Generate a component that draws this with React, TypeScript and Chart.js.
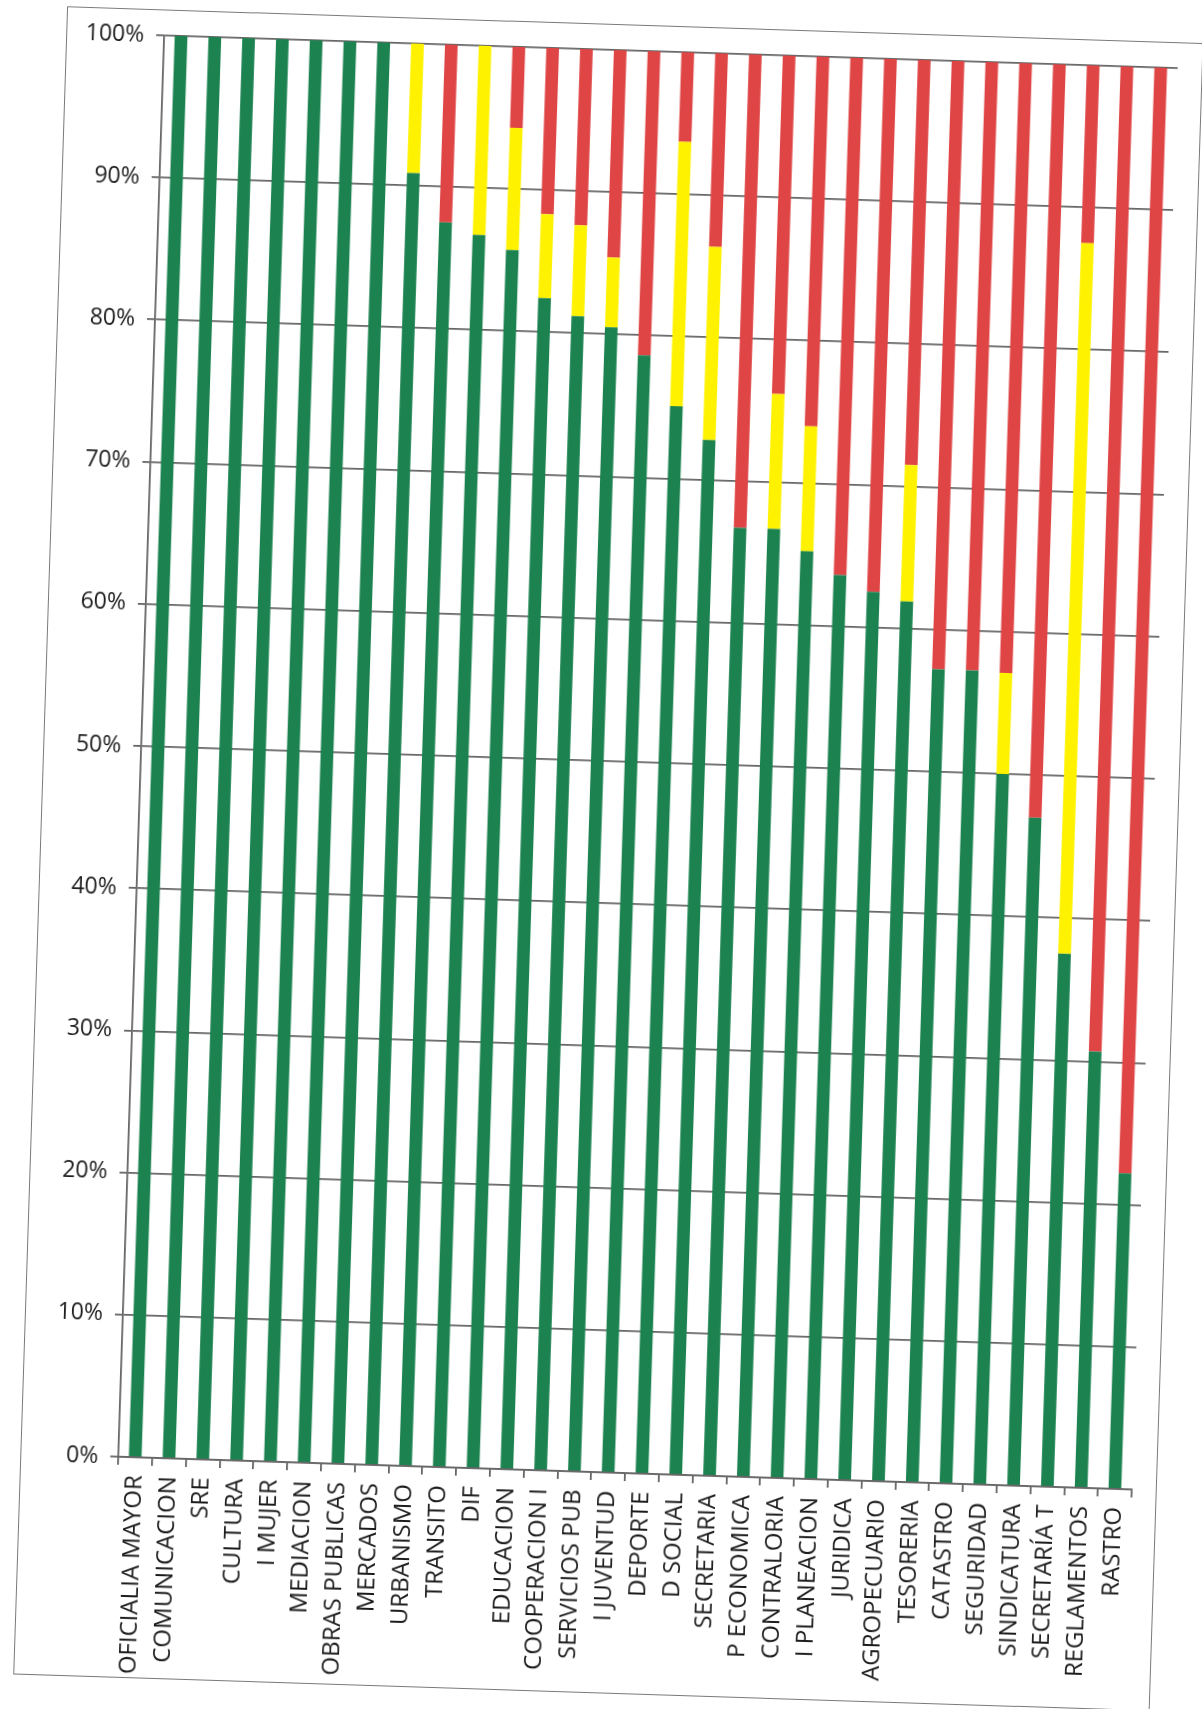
import { useEffect, useRef } from "react";
import { Chart, registerables } from "chart.js";

Chart.register(...registerables);

const categories = [
  "OFICIALIA MAYOR",
  "COMUNICACION",
  "SRE",
  "CULTURA",
  "I MUJER",
  "MEDIACION",
  "OBRAS PUBLICAS",
  "MERCADOS",
  "URBANISMO",
  "TRANSITO",
  "DIF",
  "EDUCACION",
  "COOPERACION I",
  "SERVICIOS PUB",
  "I JUVENTUD",
  "DEPORTE",
  "D SOCIAL",
  "SECRETARIA",
  "P ECONOMICA",
  "CONTRALORIA",
  "I PLANEACION",
  "JURIDICA",
  "AGROPECUARIO",
  "TESORERIA",
  "CATASTRO",
  "SEGURIDAD",
  "SINDICATURA",
  "SECRETARÍA T",
  "REGLAMENTOS",
  "RASTRO",
];

const greenValues = [
  100, 100, 100, 100, 100, 100, 100, 90.9, 87.5, 86.7, 85.7, 82.4, 81.2, 80.5, 78.6,
  75.1, 72.8, 66.7, 66.7, 65.2, 63.6, 62.5, 61.9, 57.2, 57.2, 50.0, 47.0, 37.5, 30.7, 22.2,
];

const yellowValues = [
  0, 0, 0, 0, 0, 0, 0, 9.1, 0, 13.3, 8.6, 5.9, 6.4, 4.9, 0,
  18.6, 13.6, 0, 9.5, 8.8, 0, 0, 9.6, 0, 0, 7.1, 0, 50.0, 0, 0,
];

const redValues = [
  0, 0, 0, 0, 0, 0, 0, 0, 12.5, 0, 5.7, 11.7, 12.4, 14.6, 21.4,
  6.3, 13.6, 33.3, 23.8, 26.0, 36.4, 37.5, 28.5, 42.8, 42.8, 42.9, 53.0, 12.5, 69.3, 77.8,
];

const yTickValues = [0, 10, 20, 30, 40, 50, 60, 70, 80, 90, 100];

const GREEN = "#1b8250";
const YELLOW = "#fff200";
const RED = "#df4545";
const GRID = "#666666";
const TEXT = "#1c1c1c";
const FONT = "'Open Sans', 'DejaVu Sans', sans-serif";

export default function App() {
  const canvasRef = useRef<HTMLCanvasElement | null>(null);

  useEffect(() => {
    const canvas = canvasRef.current;
    if (!canvas) return;
    const chart = new Chart(canvas, {
      type: "bar",
      data: {
        labels: categories,
        datasets: [
          {
            label: "Verde",
            data: greenValues,
            backgroundColor: GREEN,
            barPercentage: 0.376,
            categoryPercentage: 1,
          },
          {
            label: "Amarillo",
            data: yellowValues,
            backgroundColor: YELLOW,
            barPercentage: 0.376,
            categoryPercentage: 1,
          },
          {
            label: "Rojo",
            data: redValues,
            backgroundColor: RED,
            barPercentage: 0.376,
            categoryPercentage: 1,
          },
        ],
      },
      options: {
        responsive: false,
        maintainAspectRatio: false,
        animation: false,
        devicePixelRatio: 1,
        layout: { padding: { left: 0, top: 50, right: 50, bottom: 0 } },
        plugins: {
          legend: { display: false },
          tooltip: { enabled: false },
        },
        scales: {
          x: {
            stacked: true,
            grid: {
              display: true,
              drawOnChartArea: false,
              drawTicks: true,
              tickLength: 8,
              color: GRID,
              lineWidth: 1.8,
              offset: true,
            },
            border: { display: true, color: GRID, width: 1.8 },
            ticks: {
              autoSkip: false,
              minRotation: 90,
              maxRotation: 90,
              padding: 10,
              color: TEXT,
              font: { family: FONT, size: 24 },
            },
            afterFit: (scale: any) => {
              scale.height = 237;
            },
          },
          y: {
            stacked: true,
            min: 0,
            max: 100,
            afterBuildTicks: (scale: any) => {
              scale.ticks = yTickValues.map((v) => ({ value: v }));
            },
            ticks: {
              stepSize: 10,
              padding: 12,
              color: TEXT,
              font: { family: FONT, size: 23 },
              callback: (v: any) => `${v}%`,
            },
            grid: {
              color: GRID,
              lineWidth: 1.8,
              tickLength: 8,
              drawTicks: true,
            },
            border: { display: true, color: GRID, width: 1.8 },
            afterFit: (scale: any) => {
              scale.width = 138;
            },
          },
        },
      },
    });
    return () => chart.destroy();
  }, []);

  return (
    <div
      style={{
        position: "fixed",
        left: 0,
        top: 0,
        width: 1202,
        height: 1709,
        overflow: "hidden",
        background: "#ffffff",
      }}
    >
      <div
        style={{
          position: "absolute",
          left: 0,
          top: 0,
          width: 1202,
          height: 1709,
          transform: "rotate(1.85deg)",
          transformOrigin: "601px 854.5px",
        }}
      >
        <div
          style={{
            position: "absolute",
            left: 40,
            top: 24,
            width: 1137,
            height: 1669,
            border: "1.6px solid #7a7a7a",
            boxSizing: "border-box",
          }}
        />
        <canvas
          ref={canvasRef}
          width={1202}
          height={1709}
          style={{ position: "absolute", left: 0, top: 0, width: 1202, height: 1709 }}
        />
      </div>
    </div>
  );
}
